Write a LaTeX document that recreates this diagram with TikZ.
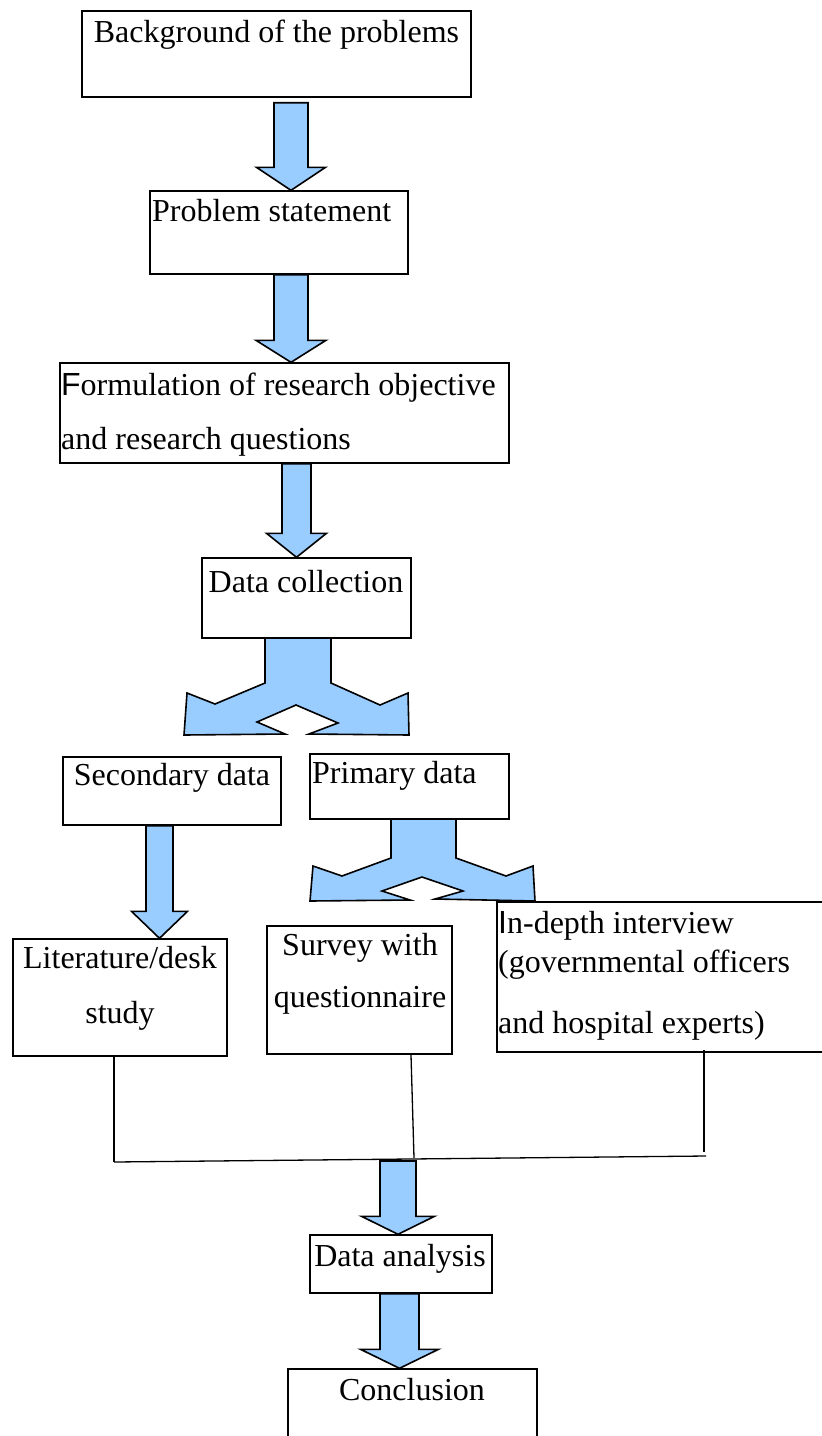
\documentclass[tikz,border=0pt]{standalone}
\usepackage{fontspec}
\setmainfont{Liberation Serif}
\newfontfamily\plainsans{Liberation Sans}
\usepackage{tikz}
\usetikzlibrary{calc, fit}
\definecolor{arrowblue}{HTML}{99CCFF}

\tikzset{
  box/.style={draw, line width=1.4pt, inner sep=0pt, fill=white},
  txt/.style={font=\fontsize{32}{38}\selectfont, inner sep=0pt},
  blockarrow/.style={draw, fill=arrowblue, line width=1.6pt, line join=miter},
  joinline/.style={line width=1.3pt}
}
% block arrow pointing down: from, to, x centre, half shaft, half head, head length
\newcommand{\blockdown}[6]{%
  \filldraw[blockarrow] let \p1=(#1), \p2=(#2) in
    ({(#3-#4)*1pt},\y1) -- ({(#3+#4)*1pt},\y1) -- ({(#3+#4)*1pt},{\y2+#6pt})
    -- ({(#3+#5)*1pt},{\y2+#6pt}) -- ({#3*1pt},\y2) -- ({(#3-#5)*1pt},{\y2+#6pt})
    -- ({(#3-#4)*1pt},{\y2+#6pt}) -- cycle;}

\begin{document}
\begin{tikzpicture}[x=1pt, y=-1pt]
    \useasboundingbox (0,0) rectangle (822,1436);

    % boxes
    \node[box, fit={(82,11) (471,97)}] (bg) {};
    \node[box, fit={(150,191) (408,274)}] (ps) {};
    \node[box, fit={(60,363) (509,463)}] (fo) {};
    \node[box, fit={(202,558) (411,638)}] (dc) {};
    \node[box, fit={(63,757) (281,825)}] (sd) {};
    \node[box, fit={(310,754) (509,819)}] (pd) {};
    \node[box, fit={(13,939) (227,1056)}] (ld) {};
    \node[box, fit={(267,926) (452,1054)}] (sq) {};
    \node[box, fit={(497,902) (850,1052)}] (iv) {};
    \node[box, fit={(310,1235) (492,1293)}] (da) {};
    \node[box, fit={(288,1369) (537,1460)}] (co) {};

    % texts (multi-line ones sit on their last line)
    \node[txt, anchor=base] (bgtext) at (276.5,42) {Background of the problems};
    \node[txt, anchor=base west] (pstext) at (152,221) {Problem statement};
    \node[txt, anchor=base west, align=left, font=\fontsize{32}{54}\selectfont] (fotext) at (61,449)
        {{\plainsans F}ormulation of research objective\\and research questions};
    \node[txt, anchor=base] (dctext) at (306,592) {Data collection};
    \node[txt, anchor=base] (sdtext) at (172,785) {Secondary data};
    \node[txt, anchor=base west] (pdtext) at (312,783) {Primary data};
    \node[txt, anchor=base, align=center, font=\fontsize{32}{55}\selectfont] (ldtext) at (120,1023)
        {Literature/desk\\study};
    \node[txt, anchor=base, align=center, font=\fontsize{32}{52}\selectfont] (sqtext) at (360,1007)
        {Survey with\\questionnaire};
    \node[txt, anchor=base west, align=left, font=\fontsize{32}{39}\selectfont] (ivtext) at (498,1033)
        {{\plainsans I}n-depth interview\\(governmental officers\\[22pt]and hospital experts)};
    \node[txt, anchor=base] (datext) at (400,1266) {Data analysis};
    \node[txt, anchor=base] (cotext) at (412,1400) {Conclusion};

    % straight block arrows
    \blockdown{[yshift=-5pt]bg.south}{ps.north}{291}{17}{34.5}{23}
    \blockdown{ps.south}{fo.north}{291}{17}{35}{22}
    \blockdown{fo.south}{dc.north}{296.5}{14.5}{30}{24}
    \blockdown{sd.south}{ld.north}{159.5}{13.5}{28}{27}

    % split arrows
    \filldraw[blockarrow] (265,638) -- (265,683) -- (215,704) -- (187,693) -- (184,735)
        -- (285,734) -- (257,722) -- (296,705) -- (338,723) -- (309,734) -- (409,735)
        -- (408,693) -- (380,705) -- (331,683) -- (331,638) -- cycle;
    \filldraw[blockarrow] (391,819) -- (391,858) -- (342,876) -- (313,866) -- (310,901)
        -- (410,900) -- (382,891) -- (422,877) -- (463,891) -- (435,899) -- (535,901)
        -- (533,866) -- (506,876) -- (456,858) -- (456,819) -- cycle;

    % joining lines
    \coordinate (jl) at (114,1162);
    \coordinate (jm) at (414,1158);
    \coordinate (jr) at (706,1156);
    \coordinate (jn) at (398,1161);
    \draw[joinline] (ld.south -| jl) -- (jl);
    \draw[joinline] (sq.south -| 411,0) -- (jm);
    \draw[joinline] (704,1050) -- (704,1152);
    \draw[joinline] (jl) -- (jr);

    \blockdown{jn}{da.north}{398}{18}{36.5}{18}
    \blockdown{da.south}{co.north}{399.5}{19.5}{39}{19}
\end{tikzpicture}
\end{document}
